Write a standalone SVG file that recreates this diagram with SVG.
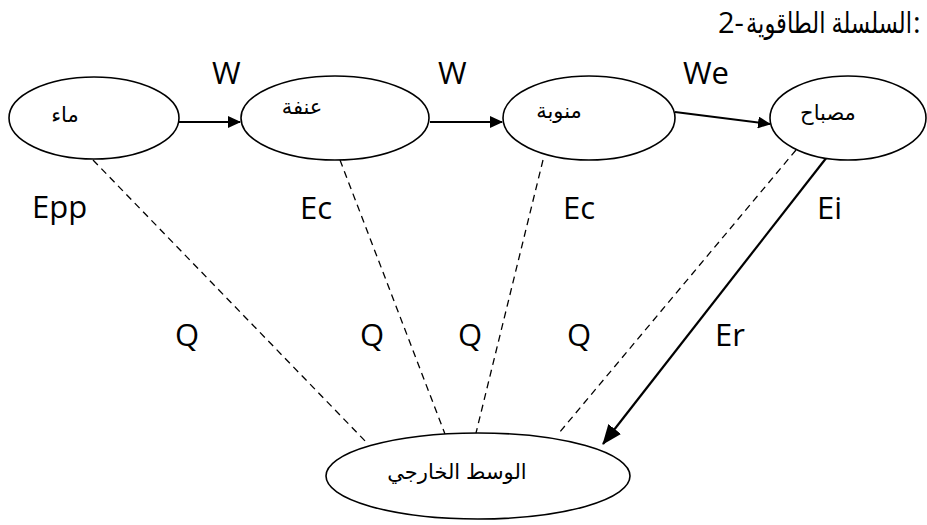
<svg xmlns="http://www.w3.org/2000/svg" width="927" height="525" viewBox="0 0 927 525">
<defs>
<style>
.node{fill:#fff;stroke:#000;stroke-width:1.6}
.ar{font-family:"Liberation Sans","DejaVu Sans",sans-serif;font-size:21px;fill:#000}
.lbl{font-family:"Open Sans","Liberation Sans",sans-serif;font-size:31px;fill:#000}
.ttl{font-family:"Open Sans","DejaVu Sans",sans-serif;font-size:29px;fill:#000}
.dash{stroke:#000;stroke-width:1.3;stroke-dasharray:7 5;fill:none}
.solid{stroke:#000;stroke-width:2.2;fill:none}
</style>
<marker id="ah" markerWidth="13" markerHeight="12" refX="12" refY="6" orient="auto" markerUnits="userSpaceOnUse" viewBox="0 0 13 12">
<path d="M0,0 L13,6 L0,12 z" fill="#000"/>
</marker>
<marker id="ah2" markerWidth="20" markerHeight="16" refX="19" refY="8" orient="auto" markerUnits="userSpaceOnUse" viewBox="0 0 20 16">
<path d="M0,0 L20,8 L0,16 z" fill="#000"/>
</marker>
</defs>
<rect width="927" height="525" fill="#fff"/>
<g id="title">
<text class="ttl" x="718" y="33">2-</text>
<text class="ttl" transform="translate(829,33) scale(0.78,1)" x="0" y="0" text-anchor="middle" font-family="'DejaVu Sans',sans-serif">السلسلة الطاقوية</text>
<text class="ttl" x="913" y="33">:</text>
</g>
<g id="connectors">
<line class="solid" x1="179" y1="122" x2="240" y2="122" marker-end="url(#ah)"/>
<line class="solid" x1="430" y1="122" x2="502" y2="122" marker-end="url(#ah)"/>
<line class="solid" x1="675" y1="112" x2="770" y2="124" marker-end="url(#ah)"/>
<line class="dash" x1="93" y1="160" x2="368" y2="444"/>
<line class="dash" x1="340" y1="160" x2="445" y2="434"/>
<line class="dash" x1="543" y1="160" x2="476" y2="433"/>
<line class="dash" x1="796" y1="150" x2="559" y2="433"/>
<line class="solid" x1="827" y1="157" x2="603" y2="444" marker-end="url(#ah2)"/>
</g>
<g id="n1"><ellipse class="node" cx="94" cy="118" rx="85" ry="41"/><text class="ar" x="65" y="122" text-anchor="middle">ماء</text></g>
<g id="n2"><ellipse class="node" cx="335" cy="118" rx="94" ry="42"/><text class="ar" x="302" y="114" text-anchor="middle">عنفة</text></g>
<g id="n3"><ellipse class="node" cx="589" cy="118" rx="86" ry="42"/><text class="ar" x="559" y="118" text-anchor="middle">منوبة</text></g>
<g id="n4"><ellipse class="node" cx="848" cy="118" rx="78" ry="42"/><text class="ar" x="828" y="120" text-anchor="middle">مصباح</text></g>
<g id="n5"><ellipse class="node" cx="478" cy="476" rx="152" ry="43"/><text class="ar" x="457" y="479" text-anchor="middle">الوسط الخارجي</text></g>
<g id="labels">
<text class="lbl" x="212" y="84">W</text>
<text class="lbl" x="438" y="84">W</text>
<text class="lbl" x="683" y="84">We</text>
<text class="lbl" x="32" y="218">Epp</text>
<text class="lbl" x="300" y="219">Ec</text>
<text class="lbl" x="563" y="219">Ec</text>
<text class="lbl" x="817" y="219">Ei</text>
<text class="lbl" x="175" y="346">Q</text>
<text class="lbl" x="360" y="346">Q</text>
<text class="lbl" x="458" y="346">Q</text>
<text class="lbl" x="567" y="346">Q</text>
<text class="lbl" x="715" y="346">Er</text>
</g>
</svg>
